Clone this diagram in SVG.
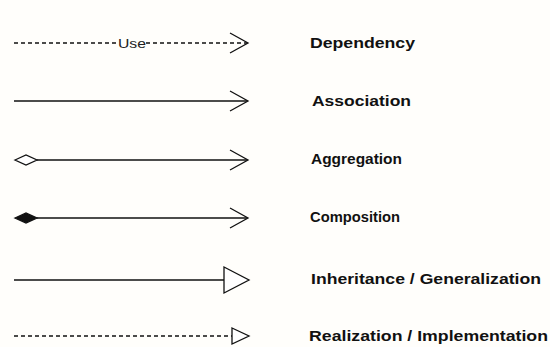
<svg xmlns="http://www.w3.org/2000/svg" width="550" height="347" viewBox="0 0 550 347">
  <style>
    .ln { stroke: #111; stroke-width: 1.3; fill: none; }
    .dash { stroke-dasharray: 4 3; }
    .open { stroke: #111; stroke-width: 1.3; fill: none; }
    .hollow { stroke: #111; stroke-width: 1.3; fill: #fff; }
    .solid { stroke: #111; stroke-width: 1.3; fill: #111; }
    .lbl { font-family: "Liberation Sans", Arial, Helvetica, sans-serif; font-size: 15.5px; font-weight: bold; fill: #111; }
    .use { font-family: "Liberation Sans", Arial, Helvetica, sans-serif; font-size: 13px; fill: #222; }
  </style>
  <rect width="550" height="347" fill="#fffefb"/>

  <g id="connectors">
    <!-- Dependency: dashed line with open arrow and "Use" label -->
    <g id="dependency-line">
      <line class="ln dash" x1="14" y1="43" x2="118" y2="43"/>
      <line class="ln dash" x1="146" y1="43" x2="247" y2="43"/>
      <text class="use" x="118" y="47.5" textLength="28" lengthAdjust="spacingAndGlyphs">Use</text>
      <polyline class="open" points="230,33 248,43 230,53"/>
    </g>
    <!-- Association: solid line with open arrow -->
    <g id="association-line">
      <line class="ln" x1="14" y1="101" x2="247" y2="101"/>
      <polyline class="open" points="230,91 248,101 230,111"/>
    </g>
    <!-- Aggregation: hollow diamond at source -->
    <g id="aggregation-line">
      <line class="ln" x1="37" y1="160" x2="247" y2="160"/>
      <polyline class="open" points="230,150 248,160 230,170"/>
      <polygon class="hollow" points="15,160 26,155 37,160 26,165"/>
    </g>
    <!-- Composition: filled diamond at source -->
    <g id="composition-line">
      <line class="ln" x1="37" y1="218" x2="247" y2="218"/>
      <polyline class="open" points="230,208 248,218 230,228"/>
      <polygon class="solid" points="15,218 26,213 37,218 26,223"/>
    </g>
    <!-- Inheritance: solid line with hollow triangle -->
    <g id="inheritance-line">
      <line class="ln" x1="14" y1="280" x2="224" y2="280"/>
      <polygon class="hollow" points="224,267 249,280 224,293"/>
    </g>
    <!-- Realization: dashed line with hollow triangle -->
    <g id="realization-line">
      <line class="ln dash" x1="14" y1="336" x2="232" y2="336"/>
      <polygon class="hollow" points="232,328 249,336 232,344"/>
    </g>
  </g>

  <g id="label-dependency"><text class="lbl" x="310" y="48" textLength="105" lengthAdjust="spacingAndGlyphs">Dependency</text></g>
  <g id="label-association"><text class="lbl" x="312" y="106" textLength="99" lengthAdjust="spacingAndGlyphs">Association</text></g>
  <g id="label-aggregation"><text class="lbl" x="311" y="164" textLength="91" lengthAdjust="spacingAndGlyphs">Aggregation</text></g>
  <g id="label-composition"><text class="lbl" x="310" y="222" textLength="90" lengthAdjust="spacingAndGlyphs">Composition</text></g>
  <g id="label-inheritance"><text class="lbl" x="311" y="284" textLength="230" lengthAdjust="spacingAndGlyphs">Inheritance / Generalization</text></g>
  <g id="label-realization"><text class="lbl" x="309" y="341" textLength="239" lengthAdjust="spacingAndGlyphs">Realization / Implementation</text></g>
</svg>
